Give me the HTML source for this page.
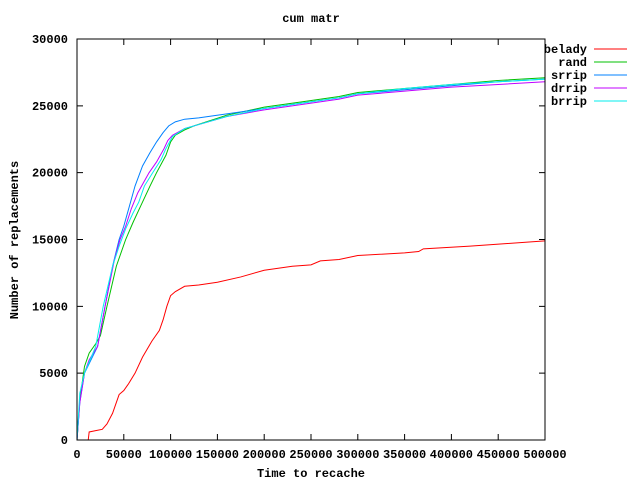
<!DOCTYPE html>
<html><head><meta charset="utf-8"><style>
body{margin:0;background:#fff;}
svg text{font-family:"Liberation Mono","DejaVu Sans Mono",monospace;font-size:12px;font-weight:bold;fill:#000;}
</style></head><body>
<svg id="chart" width="640" height="480" xmlns="http://www.w3.org/2000/svg">
<rect width="640" height="480" fill="#fff"/>
<g id="grid"></g>
<g id="series"></g>
<rect x="77" y="39" width="468" height="401" fill="none" stroke="#000" stroke-width="1"/>
<text x="311" y="22" text-anchor="middle">cum matr</text>
<text x="311" y="477" text-anchor="middle">Time to recache</text>
<text transform="translate(18,240) rotate(-90)" text-anchor="middle">Number of replacements</text>
<g id="legend"></g>
</svg>
<script>
const xTicks=[0,50000,100000,150000,200000,250000,300000,350000,400000,450000,500000];
const yTicks=[0,5000,10000,15000,20000,25000,30000];
const seriesNames=["belady","rand","srrip","drrip","brrip"];
const seriesColors=["#ff0000","#00c000","#0080ff","#c000ff","#00eeee"];
const beladyX=[12000,13000,20000,27000,32000,38000,42000,45000,50000,55000,62000,70000,80000,88000,92000,96000,100000,105000,115000,130000,150000,175000,200000,230000,250000,260000,280000,300000,350000,365000,370000,420000,460000,500000];
const beladyY=[0,600,700,800,1200,2000,2800,3400,3700,4200,5000,6200,7400,8200,9000,10000,10800,11100,11500,11600,11800,12200,12700,13000,13100,13400,13500,13800,14000,14100,14300,14500,14700,14900];
const randX=[0,3000,8000,13000,20000,25000,32000,42000,52000,60000,68000,78000,85000,95000,100000,105000,115000,125000,160000,200000,240000,280000,300000,350000,400000,450000,500000];
const randY=[0,3000,5500,6500,7200,7800,10000,13000,15000,16300,17500,19000,20000,21300,22300,22800,23200,23500,24300,24900,25300,25700,26000,26300,26600,26900,27100];
const srripX=[0,3000,8000,15000,22000,30000,38000,45000,50000,56000,62000,70000,78000,85000,92000,98000,105000,115000,130000,160000,200000,240000,280000,300000,350000,400000,450000,500000];
const srripY=[0,2800,5000,6000,7000,10000,13000,15000,16000,17500,19000,20500,21500,22300,23000,23500,23800,24000,24100,24400,24800,25200,25600,25900,26200,26500,26800,27000];
const drripX=[0,3000,8000,13000,22000,30000,40000,46000,52000,58000,65000,77000,85000,93000,97000,102000,115000,130000,160000,200000,240000,280000,300000,350000,400000,450000,500000];
const drripY=[0,2800,5000,6000,7000,10000,13500,15000,16000,17300,18500,20000,20800,21800,22400,22800,23300,23600,24200,24700,25100,25500,25800,26100,26400,26600,26800];
const brripX=[0,3000,8000,20000,28000,38000,45000,52000,60000,66000,72000,80000,90000,95000,102000,115000,130000,160000,200000,240000,280000,300000,350000,400000,450000,500000];
const brripY=[0,3500,5000,7000,10000,13000,14500,15800,17000,17800,19000,19900,21000,21800,22700,23300,23600,24200,24800,25200,25600,25900,26300,26600,26800,27000];
const seriesX=[beladyX,randX,srripX,drripX,brripX];
const seriesY=[beladyY,randY,srripY,drripY,brripY];
const X0=77,X1=545,Y0=440,Y1=39;
const sx=v=>X0+(v/500000)*(X1-X0);
const sy=v=>Y0-(v/30000)*(Y0-Y1);
const NS="http://www.w3.org/2000/svg";
const grid=document.getElementById('grid');
xTicks.forEach(t=>{
  const x=sx(t);
  const l=document.createElementNS(NS,'path');
  
  
  l.setAttribute('d',`M${x},${Y0}v-6M${x},${Y1}v6`);l.setAttribute('stroke','#000');
  grid.appendChild(l);
  const tx=document.createElementNS(NS,'text');
  
  
  tx.setAttribute('x',x);tx.setAttribute('y',Y0+18);tx.setAttribute('text-anchor','middle');tx.textContent=t;
  grid.appendChild(tx);
});
yTicks.forEach(t=>{
  const y=sy(t);
  const l=document.createElementNS(NS,'path');
  
  
  l.setAttribute('d',`M${X0},${y}h6M${X1},${y}h-6`);l.setAttribute('stroke','#000');
  grid.appendChild(l);
  const tx=document.createElementNS(NS,'text');
  
  
  tx.setAttribute('x',X0-9);tx.setAttribute('y',y+4);tx.setAttribute('text-anchor','end');tx.textContent=t;
  grid.appendChild(tx);
});
const sg=document.getElementById('series'),lg=document.getElementById('legend');
seriesNames.forEach((n,i)=>{
  let d='';
  seriesX[i].forEach((v,j)=>{const x=sx(v),y=sy(seriesY[i][j]);
    d+=(j===0?'M':'L')+x+','+y;});
  const p=document.createElementNS(NS,'path');
  
  
  p.setAttribute('d',d);p.setAttribute('fill','none');p.setAttribute('stroke',seriesColors[i]);p.setAttribute('stroke-width','1');
  sg.appendChild(p);
  const y=49+i*13;
  const t=document.createElementNS(NS,'text');
  
  
  t.setAttribute('x',587);t.setAttribute('y',y+4);t.setAttribute('text-anchor','end');t.textContent=n;
  lg.appendChild(t);
  const l=document.createElementNS(NS,'line');
  
  
  l.setAttribute('x1',594);l.setAttribute('x2',627);l.setAttribute('y1',y);l.setAttribute('y2',y);l.setAttribute('stroke',seriesColors[i]);
  lg.appendChild(l);
});
</script>
</body></html>
